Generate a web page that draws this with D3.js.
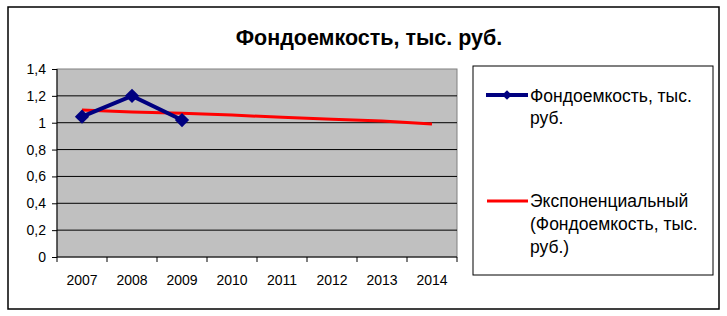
<!DOCTYPE html>
<html>
<meta charset="utf-8">
<style>
body { margin: 0; background: #fff; }
text { font-family: "Liberation Sans", Arial, sans-serif; }
.axis path { display: none; }
.axis line { stroke: #000; }
.axis text { font-size: 14px; fill: #000; }
</style>
<body>
<svg width="727" height="316"></svg>
<script src="https://d3js.org/d3.v7.min.js"></script>
<script>
var years = ["2007", "2008", "2009", "2010", "2011", "2012", "2013", "2014"];
var actualYears = ["2007", "2008", "2009"];
var actualValues = [1.045, 1.2, 1.02];
var trendValues = [1.095, 1.08, 1.07, 1.057, 1.04, 1.025, 1.012, 0.99];
var yTicks = [0, 0.2, 0.4, 0.6, 0.8, 1, 1.2, 1.4];
var title = "Фондоемкость, тыс. руб.";
var legend1 = ["Фондоемкость, тыс.", "руб."];
var legend2 = ["Экспоненциальный", "(Фондоемкость, тыс.", "руб.)"];

var svg = d3.select("svg");
var plot = {left: 57, right: 457, top: 69, bottom: 257};

// outer frame
svg.append("rect")
    .attr("x", 8).attr("y", 7).attr("width", 711).attr("height", 302)
    .attr("fill", "#fff").attr("stroke", "#000").attr("stroke-width", 1.5);

svg.append("text")
    .attr("x", 369).attr("y", 45)
    .attr("text-anchor", "middle")
    .style("font-size", "21.5px").style("font-weight", "bold")
    .text(title);

var x = d3.scaleBand().domain(years).range([plot.left, plot.right]);
var y = d3.scaleLinear().domain([0, 1.4]).range([plot.bottom, plot.top]);
var fmt = function(d) { return String(+d.toFixed(1)).replace(".", ","); };

svg.append("rect")
    .attr("x", plot.left).attr("y", plot.top)
    .attr("width", plot.right - plot.left).attr("height", plot.bottom - plot.top)
    .attr("fill", "#c0c0c0").attr("stroke", "#808080");

svg.append("g").selectAll("line")
  .data(yTicks.slice(1, -1))
  .enter().append("line")
    .attr("x1", plot.left).attr("x2", plot.right)
    .attr("y1", function(d) { return y(d); }).attr("y2", function(d) { return y(d); })
    .attr("stroke", "#000");

svg.append("line")
    .attr("x1", plot.left).attr("x2", plot.right)
    .attr("y1", plot.bottom).attr("y2", plot.bottom)
    .attr("stroke", "#000");
svg.append("line")
    .attr("x1", plot.left).attr("x2", plot.left)
    .attr("y1", plot.top).attr("y2", plot.bottom)
    .attr("stroke", "#000");

svg.append("g")
    .attr("class", "axis")
    .attr("transform", "translate(" + plot.left + ",0)")
    .call(d3.axisLeft(y).tickValues(yTicks).tickFormat(fmt).tickSize(5).tickPadding(6));

// x ticks at category boundaries
var xb = d3.scaleLinear().domain([0, years.length]).range([plot.left, plot.right]);
svg.append("g").selectAll("line")
  .data(d3.range(years.length + 1))
  .enter().append("line")
    .attr("x1", function(d) { return xb(d); }).attr("x2", function(d) { return xb(d); })
    .attr("y1", plot.bottom).attr("y2", plot.bottom + 5)
    .attr("stroke", "#000");
svg.append("g").selectAll("text")
  .data(years)
  .enter().append("text")
    .attr("x", function(d) { return x(d) + x.bandwidth() / 2; })
    .attr("y", 285)
    .attr("text-anchor", "middle")
    .style("font-size", "14px")
    .text(function(d) { return d; });

var cx = function(d) { return x(d) + x.bandwidth() / 2; };

svg.append("path")
    .datum(trendValues)
    .attr("fill", "none").attr("stroke", "#ff0000").attr("stroke-width", 3)
    .attr("d", d3.line()
      .x(function(d, i) { return cx(years[i]); })
      .y(function(d) { return y(d); }));

svg.append("path")
    .datum(actualValues)
    .attr("fill", "none").attr("stroke", "#000080").attr("stroke-width", 4)
    .attr("d", d3.line()
      .x(function(d, i) { return cx(actualYears[i]); })
      .y(function(d) { return y(d); }));

var diamond = d3.symbol().type(d3.symbolDiamond2);
svg.append("g").selectAll("path")
  .data(actualValues)
  .enter().append("path")
    .attr("transform", function(d, i) { return "translate(" + cx(actualYears[i]) + "," + y(d) + ")"; })
    .attr("d", diamond.size(130)())
    .attr("fill", "#000080");

// legend
svg.append("rect")
    .attr("x", 473).attr("y", 66).attr("width", 240).attr("height", 209)
    .attr("fill", "#fff").attr("stroke", "#000");

svg.append("line")
    .attr("x1", 486).attr("x2", 528).attr("y1", 95).attr("y2", 95)
    .attr("stroke", "#000080").attr("stroke-width", 4);
svg.append("path")
    .attr("transform", "translate(507,95)")
    .attr("d", diamond.size(60)())
    .attr("fill", "#000080");
svg.append("line")
    .attr("x1", 487).attr("x2", 528).attr("y1", 201).attr("y2", 201)
    .attr("stroke", "#ff0000").attr("stroke-width", 3);

svg.append("g").selectAll("text")
  .data(legend1)
  .enter().append("text")
    .attr("x", 530).attr("y", function(d, i) { return 102 + i * 22; })
    .style("font-size", "17.5px")
    .text(function(d) { return d; });
svg.append("g").selectAll("text")
  .data(legend2)
  .enter().append("text")
    .attr("x", 530).attr("y", function(d, i) { return 207 + i * 23; })
    .style("font-size", "17.5px")
    .text(function(d) { return d; });
</script>
</body>
</html>
